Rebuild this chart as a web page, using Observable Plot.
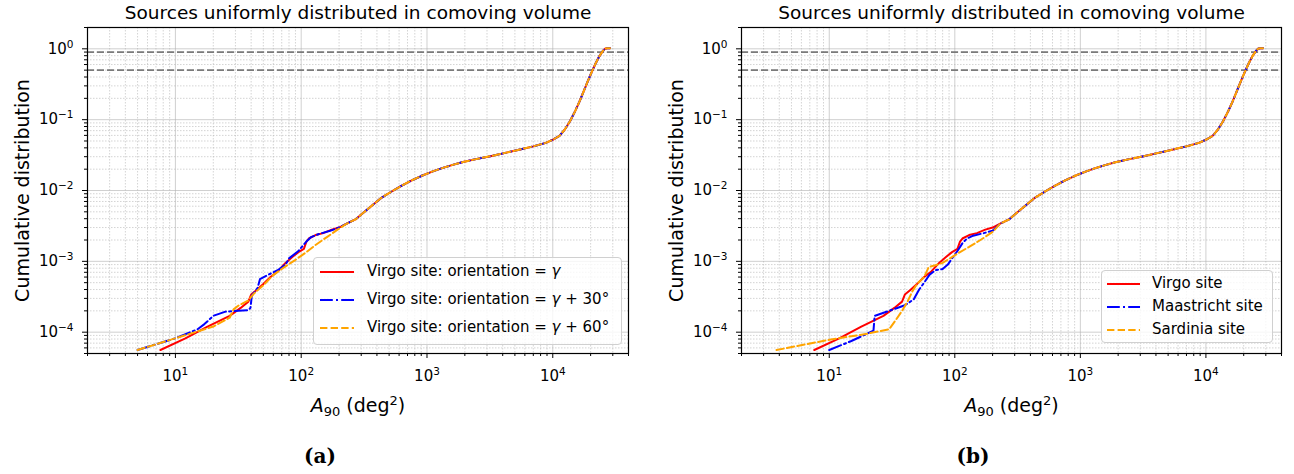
<!DOCTYPE html>
<html><head><meta charset="utf-8">
<script src="https://cdn.jsdelivr.net/npm/d3@7"></script>
<script src="https://cdn.jsdelivr.net/npm/@observablehq/plot@0.6"></script>
<style>
html,body{margin:0;padding:0;background:#fff;}
#root{position:relative;width:1294px;height:474px;overflow:hidden;font-family:"DejaVu Sans",sans-serif;}
.panel{position:absolute;top:0;}
.legend{position:absolute;background:rgba(255,255,255,0.8);border:1px solid #d0d0d0;border-radius:4px;box-sizing:border-box;}
.entry{position:absolute;left:0;font-size:15px;line-height:15px;white-space:nowrap;color:#000;}
.entry svg{position:absolute;top:0;}
.entry span{position:absolute;top:-8px;}
.cap{position:absolute;font-family:"DejaVu Serif",serif;font-weight:bold;font-size:20px;transform:translateX(-50%);top:444px;}
</style></head>
<body><div id="root"></div>
<script>
// ---------- data ----------
const title = "Sources uniformly distributed in comoving volume";
const yLabel = "Cumulative distribution";
const xTicks = [1e1, 1e2, 1e3, 1e4];
const yTicks = [1e-4, 1e-3, 1e-2, 1e-1, 1];
const xDomain = [2, 4e4];
const yDomain = [5e-5, 2];
const thresholds = [0.9, 0.5];

// shared upper part of every cumulative curve (A90 > 200 deg^2)
const tailX = [230, 270, 310, 360, 430, 520, 620, 750, 900, 1100, 1300, 1600, 1900, 2400, 3200, 4200, 5500, 7000, 8800, 10000, 11300, 12500, 13700, 15000, 16300, 17600, 19000, 20500, 22000, 23500, 25000, 26000, 27000, 28500];
const tailY = [3.4e-3, 3.9e-3, 4.8e-3, 6.0e-3, 7.8e-3, 9.6e-3, 1.15e-2, 1.38e-2, 1.6e-2, 1.85e-2, 2.05e-2, 2.3e-2, 2.5e-2, 2.75e-2, 3.05e-2, 3.4e-2, 3.8e-2, 4.2e-2, 4.7e-2, 5.2e-2, 5.9e-2, 7.3e-2, 9.5e-2, 0.13, 0.18, 0.25, 0.35, 0.48, 0.63, 0.79, 0.93, 1.0, 1.02, 1.02];

// panel (a) lower parts
const virgoX = [7.6, 12, 18, 27, 33, 38, 40, 44, 50, 57, 65, 75, 85, 95, 105, 110, 115, 130, 150, 175, 200];
const virgoY = [5.6e-5, 8.2e-5, 1.2e-4, 1.7e-4, 2.2e-4, 2.7e-4, 3.4e-4, 3.9e-4, 4.8e-4, 6.0e-4, 7.2e-4, 9.5e-4, 1.15e-3, 1.35e-3, 1.5e-3, 1.9e-3, 2.1e-3, 2.35e-3, 2.5e-3, 2.8e-3, 3.0e-3];
const virgo30X = [5, 10, 15, 17, 20, 25, 38, 39.5, 40.5, 45, 47, 55, 65, 75, 80, 95, 110, 120, 140, 170, 200];
const virgo30Y = [5.6e-5, 8.2e-5, 1.1e-4, 1.3e-4, 1.7e-4, 1.95e-4, 2.05e-4, 2.2e-4, 3.3e-4, 4.2e-4, 5.6e-4, 6.5e-4, 7.5e-4, 9.0e-4, 1.1e-3, 1.4e-3, 1.9e-3, 2.2e-3, 2.45e-3, 2.7e-3, 3.0e-3];
const virgo60X = [5, 10, 20, 27, 29, 32, 38, 42, 50, 60, 75, 90, 110, 130, 160, 200];
const virgo60Y = [5.6e-5, 8.2e-5, 1.2e-4, 1.6e-4, 2.1e-4, 2.4e-4, 2.8e-4, 3.5e-4, 4.6e-4, 6.4e-4, 8.5e-4, 1.05e-3, 1.35e-3, 1.7e-3, 2.2e-3, 2.9e-3];

// panel (b) lower parts
const maastrichtX = [10, 15, 20, 22.5, 23, 30, 40, 47, 52, 57, 63, 70, 80, 88, 95, 105, 115, 125, 140, 170, 200];
const maastrichtY = [5.6e-5, 7.5e-5, 9.5e-5, 1.05e-4, 1.7e-4, 2.0e-4, 2.4e-4, 2.9e-4, 4.0e-4, 5.0e-4, 6.5e-4, 7.5e-4, 7.8e-4, 9.0e-4, 1.1e-3, 1.4e-3, 1.8e-3, 2.1e-3, 2.3e-3, 2.5e-3, 2.7e-3];
const sardiniaX = [3.8, 10, 20, 30, 34, 38, 42, 46, 50, 57, 62, 70, 80, 95, 110, 130, 160, 200];
const sardiniaY = [5.6e-5, 7.8e-5, 9.5e-5, 1.1e-4, 1.5e-4, 2.0e-4, 2.7e-4, 3.8e-4, 4.8e-4, 6.0e-4, 8.3e-4, 8.8e-4, 9.5e-4, 1.15e-3, 1.35e-3, 1.6e-3, 2.0e-3, 2.6e-3];

const labelsA = ["Virgo site: orientation = γ", "Virgo site: orientation = γ + 30°", "Virgo site: orientation = γ + 60°"];
const labelsB = ["Virgo site", "Maastricht site", "Sardinia site"];
const colors = ["#ff0000", "#0000ff", "#ffa500"];
const dashes = [null, "12.8,3.2,2,3.2", "7.4,3.2"];

// ---------- helpers ----------
function rows(xs, ys) {
  const r = xs.map((x, i) => ({x, y: ys[i]}));
  tailX.forEach((x, i) => r.push({x, y: tailY[i]}));
  return r;
}
function minors(lo, hi) {
  const out = [];
  for (let e = -6; e <= 6; e++) for (let m = 2; m <= 9; m++) {
    const v = m * Math.pow(10, e);
    if (v >= lo && v <= hi) out.push(v);
  }
  return out;
}
const xMinor = minors(xDomain[0], xDomain[1]);
const yMinor = minors(yDomain[0], yDomain[1]);
const expFmt = d => "10^" + Math.round(Math.log10(d));
const X_LABEL = "A90 (deg2)";

function panel(series, ml, mr) {
  const svg = Plot.plot({
    width: 647, height: 420,
    marginLeft: ml, marginRight: mr, marginTop: 27, marginBottom: 67,
    x: {type: "log", domain: xDomain, label: null},
    y: {type: "log", domain: yDomain, label: null},
    style: {fontFamily: "DejaVu Sans", fontSize: "15px", color: "#000", background: "#fff", overflow: "visible"},
    marks: [
      Plot.gridX(xMinor, {stroke: "#b0b0b0", strokeOpacity: 0.55, strokeDasharray: "1.5,1.5", strokeWidth: 1}),
      Plot.gridY(yMinor, {stroke: "#b0b0b0", strokeOpacity: 0.55, strokeDasharray: "1.5,1.5", strokeWidth: 1}),
      Plot.gridX(xTicks, {stroke: "#b0b0b0", strokeOpacity: 0.6, strokeWidth: 1}),
      Plot.gridY(yTicks, {stroke: "#b0b0b0", strokeOpacity: 0.6, strokeWidth: 1}),
      Plot.ruleY(thresholds, {stroke: "#7a7a7a", strokeWidth: 1.8, strokeDasharray: "7,3"}),
      ...series.map((s, i) => Plot.line(s, {x: "x", y: "y", stroke: colors[i], strokeWidth: 2, strokeDasharray: dashes[i]})),
      Plot.frame({stroke: "#000", strokeWidth: 1.2}),
      Plot.axisX(xMinor, {tickSize: 3, tickFormat: () => "", label: null}),
      Plot.axisY(yMinor, {tickSize: 3, tickFormat: () => "", label: null}),
      Plot.axisX(xTicks, {tickSize: 5, tickPadding: 12, tickFormat: expFmt, fontSize: 15, label: null}),
      Plot.axisY(yTicks, {tickSize: 5, tickPadding: 9, tickFormat: expFmt, fontSize: 15, label: null}),
      Plot.text([title], {frameAnchor: "top", dy: -14, fontSize: 18.5, lineAnchor: "middle"}),
      Plot.text([yLabel], {frameAnchor: "left", dx: -65, rotate: -90, fontSize: 19, textAnchor: "middle", lineAnchor: "middle"}),
      Plot.text([X_LABEL], {frameAnchor: "bottom", dy: 52, fontSize: 19, textAnchor: "middle", lineAnchor: "middle"})
    ]
  });
  // superscript exponents on tick labels
  d3.select(svg).selectAll("text").each(function() {
    const t = d3.select(this);
    const s = t.text();
    if (s === X_LABEL) {
      t.text(null);
      t.append("tspan").attr("font-style", "italic").text("A");
      t.append("tspan").attr("font-size", "13px").attr("dy", "4").text("90");
      t.append("tspan").attr("dy", "-4").text(" (deg");
      t.append("tspan").attr("font-size", "13px").attr("dy", "-7").text("2");
      t.append("tspan").attr("dy", "7").text(")");
      return;
    }
    if (!/^10\^-?\d+$/.test(s)) return;
    const [b, e] = s.split("^");
    t.text(null);
    t.append("tspan").text(b);
    t.append("tspan").attr("font-size", "10.5px").attr("dy", "-6").text(e.replace("-", "\u2212"));
  });
  return svg;
}

function legend(root, labels, box, rowY, lineX0, lineX1, textX) {
  const lg = document.createElement("div");
  lg.className = "legend";
  Object.assign(lg.style, {left: box[0] + "px", top: box[1] + "px", width: box[2] + "px", height: box[3] + "px"});
  root.appendChild(lg);
  labels.forEach((lab, i) => {
    const e = document.createElement("div");
    e.className = "entry";
    e.style.top = (rowY[i] - box[1]) + "px";
    const w = lineX1 - lineX0;
    e.innerHTML = `<svg width="${w}" height="4" style="left:${lineX0 - box[0]}px;top:-2px"><line x1="0" y1="2" x2="${w}" y2="2" stroke="${colors[i]}" stroke-width="2" ${dashes[i] ? `stroke-dasharray="${dashes[i]}"` : ""}/></svg>` +
      `<span style="left:${textX - box[0]}px">${lab.replace("γ", "<i>γ</i>")}</span>`;
    lg.appendChild(e);
  });
}

const root = document.getElementById("root");
const pa = document.createElement("div"); pa.className = "panel"; pa.style.left = "0px";
pa.appendChild(panel([rows(virgoX, virgoY), rows(virgo30X, virgo30Y), rows(virgo60X, virgo60Y)], 87, 19));
root.appendChild(pa);
const pb = document.createElement("div"); pb.className = "panel"; pb.style.left = "647px";
pb.appendChild(panel([rows(virgoX, virgoY), rows(maastrichtX, maastrichtY), rows(sardiniaX, sardiniaY)], 94, 13));
root.appendChild(pb);

legend(root, labelsA, [313, 257, 309, 88], [271, 299, 327], 319, 353, 366);
legend(root, labelsB, [1101, 270, 172, 73], [283, 306, 329], 1106, 1139, 1151);

const ca = document.createElement("div"); ca.className = "cap"; ca.style.left = "320px"; ca.textContent = "(a)"; root.appendChild(ca);
const cb = document.createElement("div"); cb.className = "cap"; cb.style.left = "973px"; cb.textContent = "(b)"; root.appendChild(cb);
</script>
</body></html>
